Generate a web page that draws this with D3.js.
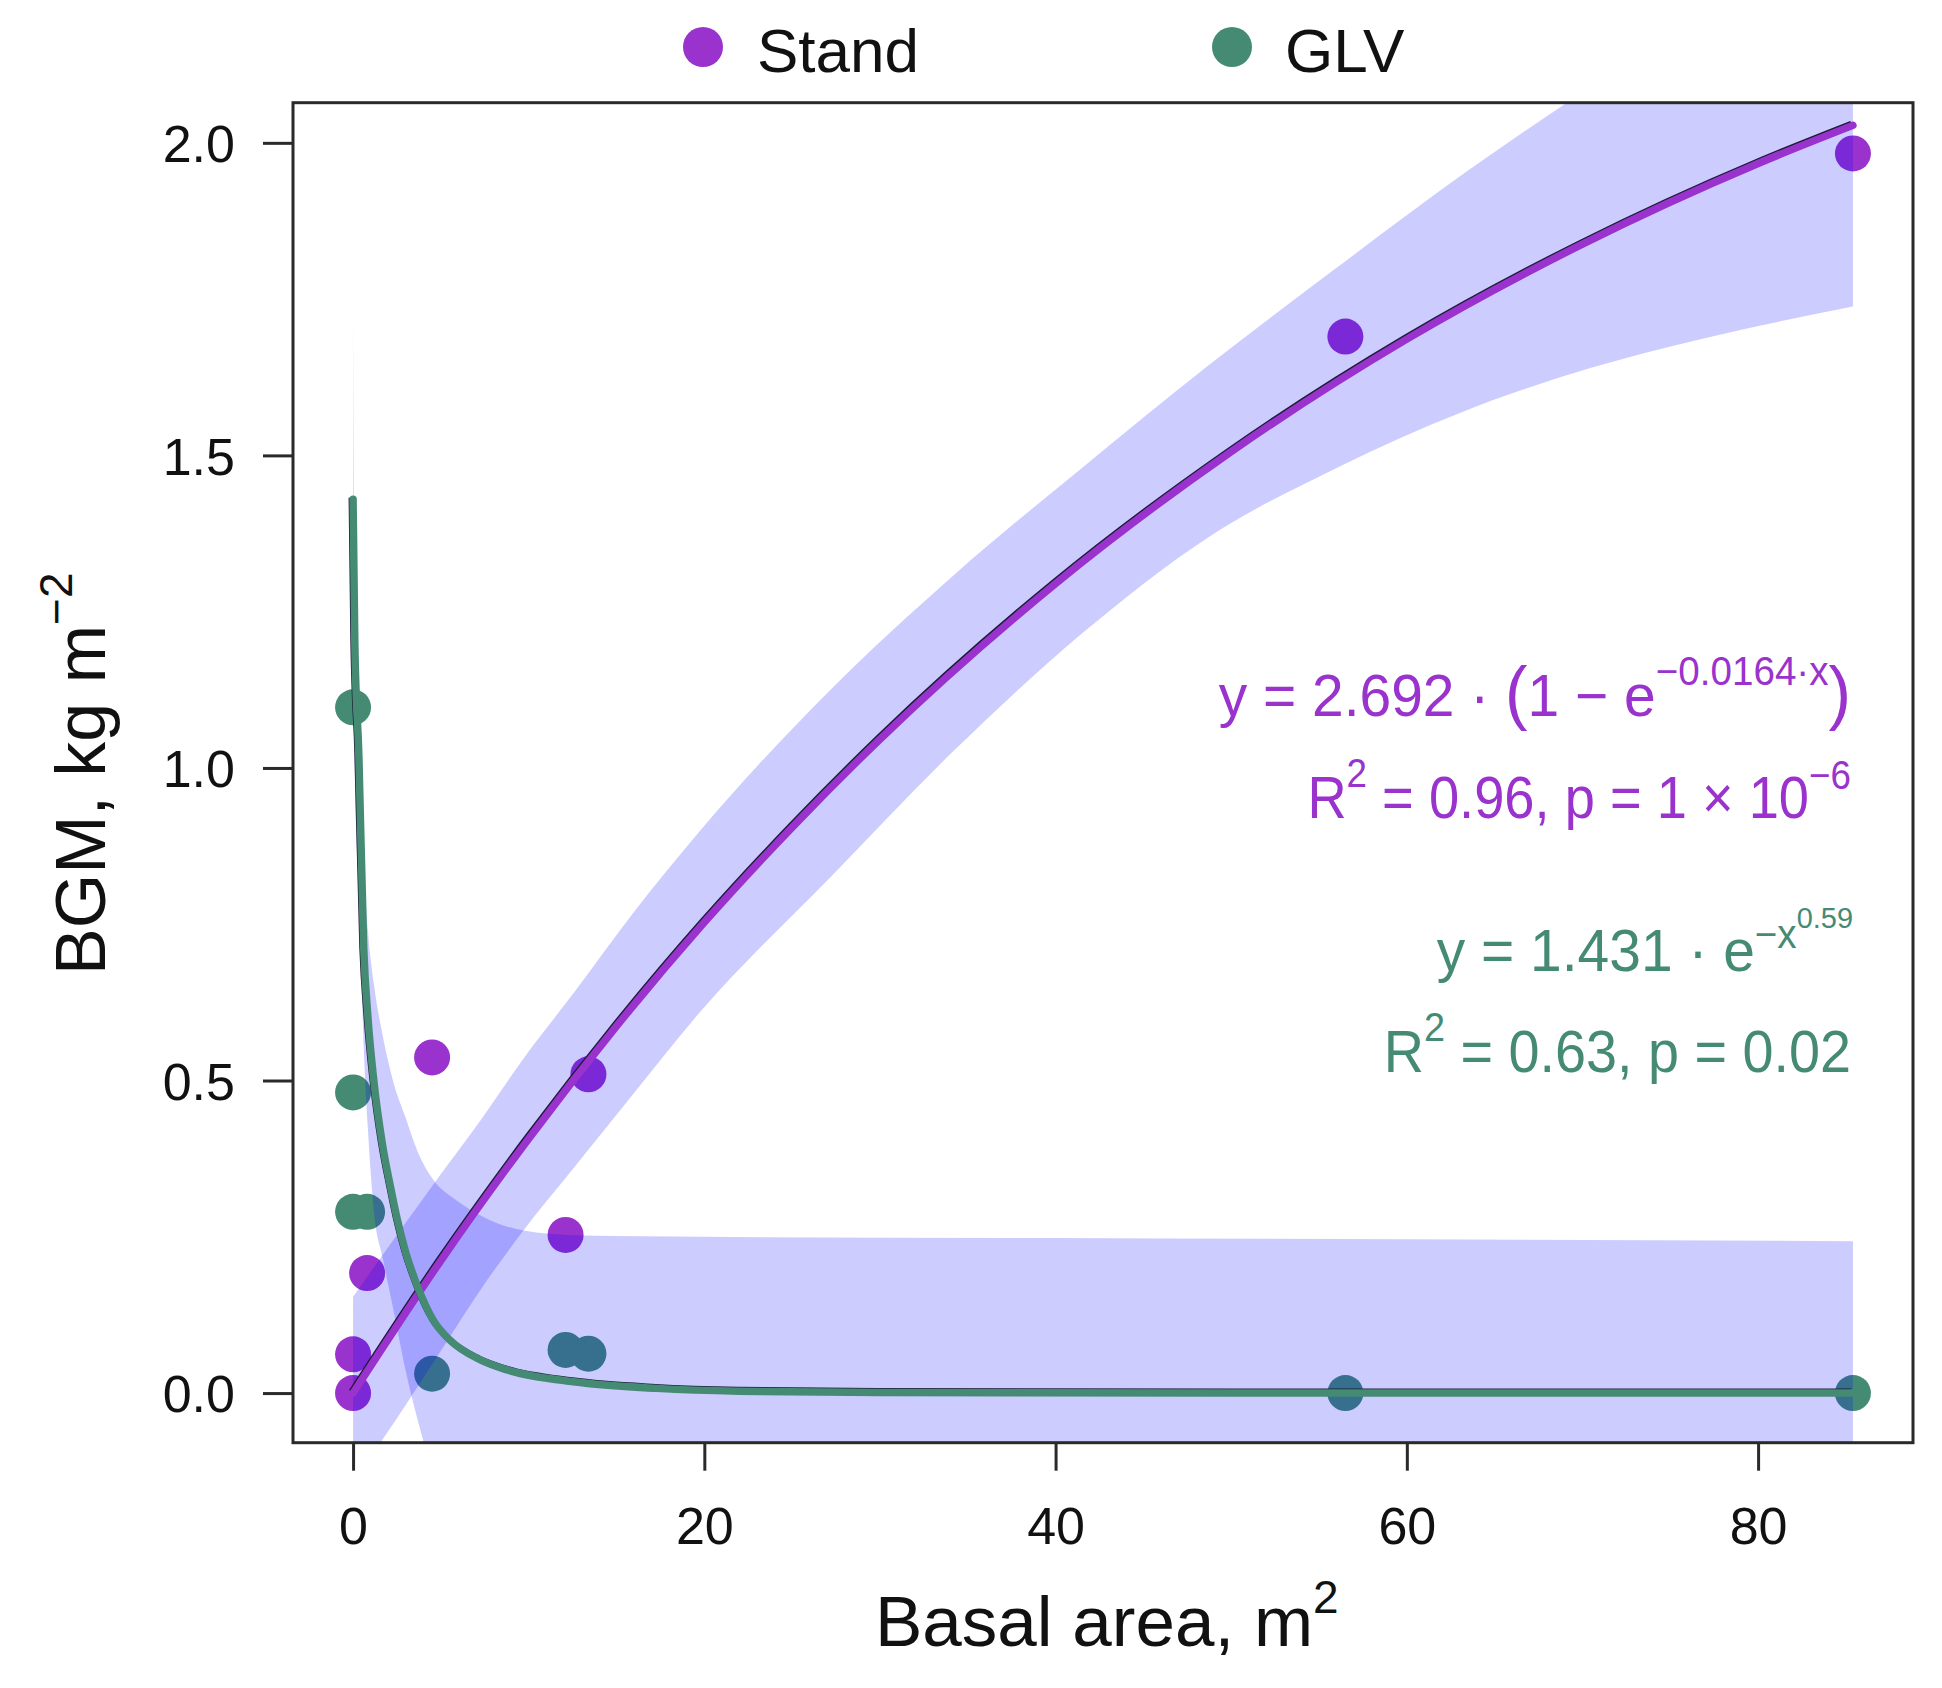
<!DOCTYPE html>
<html>
<head>
<meta charset="utf-8">
<script src="https://cdn.jsdelivr.net/npm/d3@7"></script>
<style>
  body { margin: 0; background: #fff; }
  text { font-family: "Liberation Sans", Arial, sans-serif; }
</style>
</head>
<body>
<svg id="chart" width="1942" height="1688"></svg>
<script>
// observed plots: basal area (m2) vs BGM (kg m-2)
var standX = [0, 0, 0.8, 4.5, 12.1, 13.4, 56.5, 85.4];
var standY = [0, 0.062, 0.192, 0.537, 0.253, 0.51, 1.690, 1.983];
var glvX = [0, 0, 0, 0.8, 4.5, 12.1, 13.4, 56.5, 85.4];
var glvY = [1.097, 0.481, 0.29, 0.29, 0.031, 0.069, 0.063, 0, 0];

// fitted curves
var standFitX = [0, 5, 10, 15, 20, 25, 30, 40, 50, 60, 70, 80, 85.4];
var standFitY = [0, 0.212, 0.407, 0.587, 0.753, 0.905, 1.046, 1.295, 1.506, 1.686, 1.838, 1.967, 2.028];
var glvFitX = [0, 0.1, 0.33, 0.61, 0.85, 1.18, 1.66, 2.13, 2.5, 3.0, 3.65, 4.6, 5.5, 7.25, 8.77, 12.56, 17.3, 22, 30, 50, 85.4];
var glvFitY = [1.43, 1.2, 1.02, 0.71, 0.6, 0.5, 0.4, 0.33, 0.28, 0.225, 0.172, 0.115, 0.085, 0.053, 0.037, 0.018, 0.0075, 0.003, 0.001, 0, 0];

// confidence bands
var standBandX = [0, 1.66, 4.6, 7.25, 9.7, 12.56, 16, 19.77, 27, 34.26, 41.5, 48.75, 56, 63.2, 70.5, 76.6, 85.4];
var standBandLo = [-0.14, -0.075, 0.05, 0.165, 0.26, 0.36, 0.48, 0.61, 0.82, 1.029, 1.215, 1.37, 1.48, 1.57, 1.64, 1.685, 1.738];
var standBandHi = [0.154, 0.22, 0.335, 0.436, 0.535, 0.64, 0.77, 0.9, 1.12, 1.31, 1.48, 1.645, 1.8, 1.95, 2.09, 2.2, 2.32];
var glvBandX = [0, 0.03, 0.1, 0.33, 0.61, 0.85, 1.19, 1.7, 2.32, 3.0, 3.65, 4.6, 5.8, 7.07, 9.7, 13, 20, 40, 60, 85.4];
var glvBandLo = [1.15, 1.1, 0.98, 0.8, 0.55, 0.42, 0.29, 0.215, 0.13, 0.035, -0.04, -0.13, -0.19, -0.22, -0.24, -0.243, -0.243, -0.243, -0.243, -0.243];
var glvBandHi = [1.73, 1.5, 1.3, 1.1, 0.85, 0.74, 0.654, 0.57, 0.495, 0.44, 0.388, 0.34, 0.31, 0.287, 0.26, 0.252, 0.25, 0.248, 0.246, 0.243];

var xTicks = [0, 20, 40, 60, 80];
var yTicks = [0, 0.5, 1, 1.5, 2];

var purple = "#9A32CD",
	green = "#458B74",
	bandFill = "rgba(0,0,255,0.2)",
	axisColor = "#2a2a2a",
	font = "'Liberation Sans', Arial, sans-serif";

var plotLeft = 293, plotRight = 1913, plotTop = 102.7, plotBottom = 1442.7;

var svg = d3.select("#chart");

var x = d3.scaleLinear().domain([-3.42, 88.82]).range([plotLeft, plotRight]);
var y = d3.scaleLinear().domain([-0.0794, 2.0642]).range([plotBottom, plotTop]);

svg.append("defs").append("clipPath").attr("id", "plotClip")
	.append("rect")
	.attr("x", plotLeft).attr("y", plotTop)
	.attr("width", plotRight - plotLeft).attr("height", plotBottom - plotTop);

var plot = svg.append("g").attr("clip-path", "url(#plotClip)");

function pairs(xs, ys) {
	return xs.map(function(d, i) { return [d, ys[i]]; });
}

// points first, the bands are laid over them
plot.selectAll(".stand").data(pairs(standX, standY)).join("circle")
	.attr("class", "stand")
	.attr("cx", function(d) { return x(d[0]); })
	.attr("cy", function(d) { return y(d[1]); })
	.attr("r", 18)
	.attr("fill", purple);

plot.selectAll(".glv").data(pairs(glvX, glvY)).join("circle")
	.attr("class", "glv")
	.attr("cx", function(d) { return x(d[0]); })
	.attr("cy", function(d) { return y(d[1]); })
	.attr("r", 18)
	.attr("fill", green);

function band(xs, lo, hi) {
	return d3.area()
		.x(function(d, i) { return x(xs[i]); })
		.y0(function(d, i) { return y(lo[i]); })
		.y1(function(d, i) { return y(hi[i]); })
		.curve(d3.curveMonotoneX)(xs);
}

plot.append("path").attr("d", band(standBandX, standBandLo, standBandHi)).attr("fill", bandFill);
plot.append("path").attr("d", band(glvBandX, glvBandLo, glvBandHi)).attr("fill", bandFill);

var line = d3.line()
	.x(function(d) { return x(d[0]); })
	.y(function(d) { return y(d[1]); })
	.curve(d3.curveMonotoneX);

[[standFitX, standFitY, purple], [glvFitX, glvFitY, green]].forEach(function(s) {
	var d = line(pairs(s[0], s[1]));
	plot.append("path").attr("d", d)
		.attr("transform", "translate(-1.5,-1.5)")
		.attr("fill", "none").attr("stroke", "#1c1c3a").attr("stroke-width", 6);
	plot.append("path").attr("d", d)
		.attr("fill", "none").attr("stroke", s[2]).attr("stroke-width", 7.5)
		.attr("stroke-linecap", "round");
});

// frame
svg.append("rect")
	.attr("x", plotLeft).attr("y", plotTop)
	.attr("width", plotRight - plotLeft).attr("height", plotBottom - plotTop)
	.attr("fill", "none").attr("stroke", axisColor).attr("stroke-width", 3);

// axes
function styleAxis(g) {
	g.attr("font-family", font).attr("font-size", 52);
	g.select(".domain").remove();
	g.selectAll("line").attr("stroke", axisColor).attr("stroke-width", 3);
	g.selectAll("text").attr("fill", "#111");
}

svg.append("g")
	.attr("transform", "translate(" + plotLeft + ",0)")
	.call(d3.axisLeft(y).tickValues(yTicks).tickFormat(d3.format(".1f")).tickSize(30).tickPadding(28))
	.call(styleAxis)
	.call(function(g) { g.selectAll("text").attr("dy", "0.36em"); });

svg.append("g")
	.attr("transform", "translate(0," + plotBottom + ")")
	.call(d3.axisBottom(x).tickValues(xTicks).tickFormat(d3.format("d")).tickSize(28).tickPadding(36))
	.call(styleAxis);

// axis titles
var xTitle = svg.append("text")
	.attr("x", 875).attr("y", 1646)
	.attr("font-size", 71).attr("fill", "#111");
xTitle.append("tspan").text("Basal area, m");
xTitle.append("tspan").attr("font-size", 46).attr("dy", -33).text("2");

var yTitle = svg.append("text")
	.attr("transform", "translate(105,975) rotate(-90)")
	.attr("font-size", 70).attr("fill", "#111");
yTitle.append("tspan").text("BGM, kg m");
yTitle.append("tspan").attr("font-size", 46).attr("dy", -33).text("\u22122");

// legend
var legend = [["Stand", purple, 703, 757], ["GLV", green, 1232, 1285]];
legend.forEach(function(l) {
	svg.append("circle").attr("cx", l[2]).attr("cy", 47).attr("r", 20).attr("fill", l[1]);
	svg.append("text").attr("x", l[3]).attr("y", 71.7)
		.attr("font-size", 62).attr("fill", "#111").text(l[0]);
});

// fit annotations, right aligned, squeezed a little to the plotmath widths
function equation(xEnd, yBase, squeeze, color, parts) {
	var t = svg.append("text")
		.attr("transform", "translate(" + xEnd + "," + yBase + ") scale(" + squeeze + ",1)")
		.attr("text-anchor", "end")
		.attr("font-size", 59).attr("fill", color);
	parts.forEach(function(p) {
		var s = t.append("tspan").text(p.t);
		if (p.size) s.attr("font-size", p.size);
		if (p.dy) s.attr("dy", p.dy);
	});
}

equation(1851, 716, 0.965, purple, [
	{ t: "y = 2.692 \u00b7 " },
	{ t: "(", size: 70 },
	{ t: "1 \u2212 e" },
	{ t: "\u22120.0164\u00b7x", size: 40, dy: -31 },
	{ t: ")", size: 70, dy: 31 }
]);
equation(1851, 818, 0.92, purple, [
	{ t: "R" },
	{ t: "2", size: 40, dy: -31 },
	{ t: " = 0.96, p = 1 \u00d7 10", dy: 31 },
	{ t: "\u22126", size: 40, dy: -29 }
]);
equation(1853, 971, 0.965, green, [
	{ t: "y = 1.431 \u00b7 e" },
	{ t: "\u2212x", size: 40, dy: -23 },
	{ t: "0.59", size: 30, dy: -20 }
]);
equation(1851, 1072, 0.945, green, [
	{ t: "R" },
	{ t: "2", size: 40, dy: -31 },
	{ t: " = 0.63, p = 0.02", dy: 31 }
]);
</script>
</body>
</html>
